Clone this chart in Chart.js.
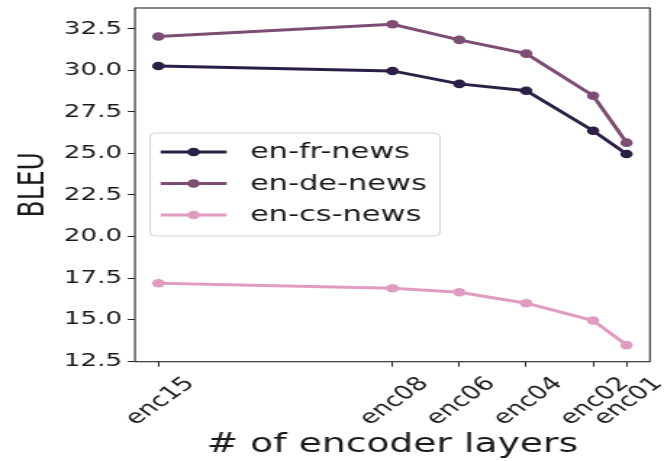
<!DOCTYPE html>
<html>
<head>
<meta charset="utf-8">
<script src="https://cdn.jsdelivr.net/npm/chart.js@4/dist/chart.umd.min.js"></script>
<style>
  html, body { margin: 0; padding: 0; background: #fff; overflow: hidden; }
  #c { display: block; }
</style>
</head>
<body>
<canvas id="c" width="458" height="461" style="width:664px;height:461px"></canvas>
<script>
// Number of encoder layers and their axis labels
const layers = [15, 8, 6, 4, 2, 1];
const layerLabels = ['enc15', 'enc08', 'enc06', 'enc04', 'enc02', 'enc01'];

// BLEU scores per language pair
const enFrNews = [30.27, 29.97, 29.19, 28.78, 26.37, 24.97];
const enDeNews = [32.04, 32.78, 31.84, 31.01, 28.48, 25.65];
const enCsNews = [17.18, 16.88, 16.64, 15.98, 14.94, 13.46];

const seriesNames = ['en-fr-news', 'en-de-news', 'en-cs-news'];
const seriesColors = ['#2b1f45', '#7d4d72', '#df9cc0'];

// y-axis tick values
const bleuTicks = [12.5, 15.0, 17.5, 20.0, 22.5, 25.0, 27.5, 30.0, 32.5];

const FONT = "'DejaVu Sans', sans-serif";

function toPoints(vals) {
  return layers.map((x, i) => ({ x: x, y: vals[i] }));
}

const allSeries = [enFrNews, enDeNews, enCsNews];
const datasets = allSeries.map((vals, i) => ({
  label: seriesNames[i],
  data: toPoints(vals),
  borderColor: seriesColors[i],
  backgroundColor: seriesColors[i],
  borderWidth: 2.9,
  pointRadius: 4.3,
  pointHoverRadius: 4.3,
  pointBorderWidth: 0,
  tension: 0
}));

// Full frame around the plot area
const framePlugin = {
  id: 'frame',
  afterDraw(chart) {
    const a = chart.chartArea, ctx = chart.ctx;
    ctx.save();
    ctx.strokeStyle = '#262626';
    ctx.lineWidth = 1.1;
    ctx.strokeRect(a.left, a.top, a.right - a.left, a.bottom - a.top);
    ctx.restore();
  }
};

// Legend box drawn inside the plot area
const legendPlugin = {
  id: 'boxLegend',
  afterDraw(chart) {
    const ctx = chart.ctx;
    const x0 = 103.5, y0 = 133, w = 200, h = 103, r = 4;
    ctx.save();
    ctx.beginPath();
    ctx.roundRect(x0, y0, w, h, r);
    ctx.fillStyle = 'rgba(255,255,255,0.85)';
    ctx.fill();
    ctx.strokeStyle = 'rgba(0,0,0,0.18)';
    ctx.lineWidth = 1;
    ctx.stroke();
    const rows = [152, 183.5, 215];
    chart.data.datasets.forEach((ds, i) => {
      const y = rows[i];
      ctx.strokeStyle = ds.borderColor;
      ctx.lineWidth = ds.borderWidth;
      ctx.beginPath();
      ctx.moveTo(110.8, y);
      ctx.lineTo(156.3, y);
      ctx.stroke();
      ctx.fillStyle = ds.backgroundColor;
      ctx.beginPath();
      ctx.arc(133.5, y, 4.3, 0, Math.PI * 2);
      ctx.fill();
      ctx.fillStyle = '#1a1a1a';
      ctx.font = '21px ' + FONT;
      ctx.textBaseline = 'middle';
      ctx.textAlign = 'left';
      ctx.fillText(ds.label, 172.4, y + 1);
    });
    ctx.restore();
  }
};

new Chart(document.getElementById('c'), {
  type: 'line',
  data: { datasets: datasets },
  options: {
    responsive: false,
    animation: false,
    events: [],
    layout: { padding: { top: 8, right: 9.7, left: 0, bottom: 0 } },
    plugins: {
      legend: { display: false },
      tooltip: { enabled: false }
    },
    scales: {
      x: {
        type: 'linear',
        reverse: true,
        min: 0.3,
        max: 15.7,
        border: { display: false },
        grid: { display: true, drawOnChartArea: false, drawTicks: true, tickLength: 5, color: '#262626', lineWidth: 1 },
        afterBuildTicks(scale) {
          scale.ticks = layers.map(v => ({ value: v }));
        },
        afterFit(scale) {
          scale.height = 99.3;
          scale.paddingLeft = 0;
          scale.paddingRight = 0;
        },
        ticks: {
          autoSkip: false,
          minRotation: 45,
          maxRotation: 45,
          labelOffset: 22,
          padding: 6,
          color: '#1a1a1a',
          font: { family: FONT, size: 19 },
          callback(value) {
            const i = layers.indexOf(value);
            return i >= 0 ? layerLabels[i] : '';
          }
        },
        title: {
          display: true,
          text: '# of encoder layers',
          color: '#1a1a1a',
          font: { family: FONT, size: 26 },
          padding: { top: 0, bottom: 0 }
        }
      },
      y: {
        min: 12.46,
        max: 33.76,
        border: { display: false },
        grid: { display: true, drawOnChartArea: false, drawTicks: true, tickLength: 5, color: '#262626', lineWidth: 1 },
        afterBuildTicks(scale) {
          scale.ticks = bleuTicks.map(v => ({ value: v }));
        },
        afterFit(scale) {
          scale.width = 93.1;
          scale.paddingTop = 0;
          scale.paddingBottom = 0;
        },
        ticks: {
          padding: 4,
          color: '#1a1a1a',
          font: { family: FONT, size: 18 },
          callback(value) { return Number(value).toFixed(1); }
        },
        title: {
          display: true,
          text: 'BLEU',
          color: '#1a1a1a',
          font: { family: FONT, size: 25 },
          padding: { top: 8, bottom: 0 }
        }
      }
    }
  },
  plugins: [framePlugin, legendPlugin]
});
</script>
</body>
</html>
